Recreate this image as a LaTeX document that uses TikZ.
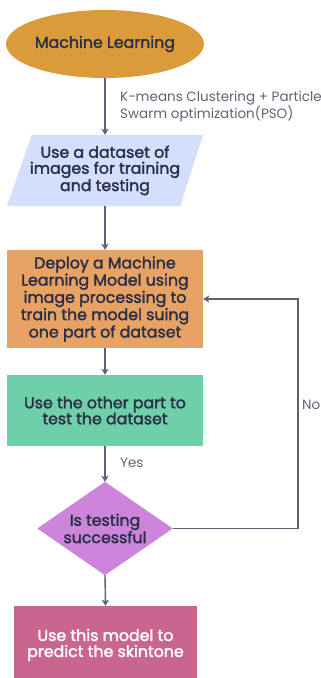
\documentclass[tikz,border=0pt]{standalone}
\usepackage{fontspec}
\setmainfont{Poppins}
\newfontfamily\boxfont{Poppins}[FakeBold=2]
\usetikzlibrary{shapes.geometric,arrows.meta}
\definecolor{cEll}{RGB}{220,155,58}
\definecolor{cPar}{RGB}{212,224,251}
\definecolor{cOra}{RGB}{232,162,99}
\definecolor{cGrn}{RGB}{110,207,168}
\definecolor{cDia}{RGB}{204,133,218}
\definecolor{cPnk}{RGB}{201,102,143}
\definecolor{cLine}{RGB}{92,97,120}
\definecolor{cTxt}{RGB}{43,48,73}
\definecolor{cLbl}{RGB}{95,100,118}
\tikzset{
  boxtxt/.style={font=\boxfont\fontsize{15.8}{16}\selectfont, text=cTxt, align=center, inner sep=0pt},
  stepbox/.style={boxtxt, rectangle, minimum width=196pt},
  arr/.style={draw=cLine, line width=1.4pt, -{Stealth[length=6pt,width=7pt,inset=1.5pt]}},
  lbl/.style={font=\fontsize{13.5}{13}\selectfont, text=cLbl, align=left, inner sep=0pt}
}
\begin{document}
\begin{tikzpicture}[x=1pt,y=-1pt]
\useasboundingbox (0,0) rectangle (321,678);
\fill[white] (0,0) rectangle (321,678);
\node[boxtxt, ellipse, fill=cEll, minimum width=167pt, minimum height=68pt] (ml) at (105,44) {Machine Learning};
\node[stepbox, minimum height=71pt] (data) at (105,170.5) {};
\fill[cPar] (data.south west) -- ([xshift=-23pt]data.south east) -- (data.north east) -- ([xshift=25pt]data.north west) -- cycle;
\node[boxtxt] (datatxt) at (data.center) {Use a dataset of\\images for training\\and testing};
\node[stepbox, fill=cOra, minimum height=98pt] (train) at (105,299) {Deploy a Machine\\Learning Model using\\image processing to\\train the model suing\\one part of dataset};
\node[stepbox, fill=cGrn, minimum height=71pt] (test) at (105,410.5) {Use the other part to\\test the dataset};
\node[boxtxt, minimum width=135pt, minimum height=93pt] (dec) at (105,528.5) {};
\fill[cDia] (dec.north) -- (dec.east) -- (dec.south) -- (dec.west) -- cycle;
\node[boxtxt] (dectxt) at (dec.center) {Is testing\\successful};
\node[stepbox, fill=cPnk, text=white, minimum width=183pt, minimum height=78pt] (use) at (105.5,645) {Use this model to\\predict the skintone};
\coordinate (c1) at (298,528.5);
\coordinate (c2) at (298,299);
\draw[arr] (ml.south) -- (data.north);
\draw[arr] (data.south) -- (train.north);
\draw[arr] (train.south) -- (test.north);
\draw[arr] (test.south) -- (dec.north);
\draw[arr] (dec.south) -- (use.north);
\draw[arr] (dec.east) -- (c1) -- (c2) -- (train.east);
\node[lbl, anchor=west] (klbl) at (120,106.5) {K-means Clustering + Particle\\Swarm optimization(PSO)};
\node[lbl, anchor=west] (ylbl) at (120,463) {Yes};
\node[lbl, anchor=west] (nlbl) at (302,405) {No};
\end{tikzpicture}
\end{document}
